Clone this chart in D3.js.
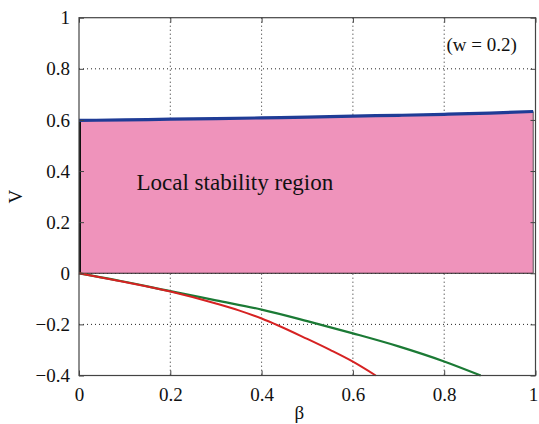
<!DOCTYPE html>
<html><head><meta charset="utf-8">
<script src="https://cdn.jsdelivr.net/npm/d3@7"></script>
<style>body{margin:0;background:#fff}svg{display:block}</style>
</head><body><svg id="c" width="539" height="424"></svg>
<script>
const xTicks=[0,0.2,0.4,0.6,0.8,1];
const yTicks=[-0.4,-0.2,0,0.2,0.4,0.6,0.8,1];
const blueBeta=[0,0.1,0.2,0.3,0.4,0.5,0.6,0.7,0.8,0.9,0.995];
const blueV=[0.598,0.600,0.603,0.605,0.608,0.611,0.615,0.618,0.622,0.627,0.633];
const greenBeta=[0,0.1,0.2,0.3,0.4,0.5,0.6,0.7,0.8,0.88];
const greenV=[0,-0.033,-0.07,-0.106,-0.142,-0.187,-0.235,-0.286,-0.345,-0.4];
const redBeta=[0,0.1,0.2,0.3,0.35,0.4,0.5,0.55,0.6,0.65];
const redV=[0,-0.034,-0.071,-0.118,-0.145,-0.177,-0.257,-0.3,-0.346,-0.4];
const regionLabel="Local stability region";
const noteLabel="(w = 0.2)";

const FONT="'Liberation Serif', 'Times New Roman', Times, serif";
const svg=d3.select("#c");
const L=79,R=535.5,T=17.7,B=375.5;
const x=d3.scaleLinear().domain([0,1]).range([L,R]);
const y=d3.scaleLinear().domain([-0.4,1]).range([B,T]);
const fmt=d=>d===0?"0":(d<0?"\u2212":"")+String(Math.abs(d));

const g=svg.append("g");
g.selectAll(".gx").data(xTicks.slice(1,-1)).join("line").attr("x1",d=>x(d)).attr("x2",d=>x(d)).attr("y1",T).attr("y2",B)
 .attr("stroke","#222").attr("stroke-width",1).attr("stroke-dasharray","1,3");
g.selectAll(".gy").data(yTicks.slice(1,-1)).join("line").attr("y1",d=>y(d)).attr("y2",d=>y(d)).attr("x1",L).attr("x2",R)
 .attr("stroke","#222").attr("stroke-width",1).attr("stroke-dasharray","1,3");

const blue=blueBeta.map((b,i)=>[b,blueV[i]]);
const area=d3.area().x(d=>x(d[0])).y0(y(0)).y1(d=>y(d[1]));
svg.append("path").datum(blue).attr("d",area).attr("fill","#ef93bb");
const xe=x(blueBeta[blueBeta.length-1]);
svg.append("line").attr("x1",x(0)).attr("x2",xe).attr("y1",y(0)).attr("y2",y(0)).attr("stroke","#222").attr("stroke-width",1.2);
svg.append("line").attr("x1",x(0)+1).attr("x2",x(0)+1).attr("y1",y(0)).attr("y2",y(blueV[0])).attr("stroke","#111").attr("stroke-width",2);
svg.append("line").attr("x1",xe).attr("x2",xe).attr("y1",y(0)).attr("y2",y(blueV[blueV.length-1])).attr("stroke","#555").attr("stroke-width",1);

const line=d3.line().curve(d3.curveMonotoneX).x(d=>x(d[0])).y(d=>y(d[1]));
svg.append("path").datum(blue).attr("d",line).attr("fill","none").attr("stroke","#1f3c96").attr("stroke-width",3.2);
svg.append("path").datum(greenBeta.map((b,i)=>[b,greenV[i]])).attr("d",line).attr("fill","none").attr("stroke","#1b7a35").attr("stroke-width",2.2);
svg.append("path").datum(redBeta.map((b,i)=>[b,redV[i]])).attr("d",line).attr("fill","none").attr("stroke","#d62222").attr("stroke-width",2);

svg.append("rect").attr("x",L).attr("y",T).attr("width",R-L).attr("height",B-T).attr("fill","none").attr("stroke","#444").attr("stroke-width",1.2);

const axB=d3.axisBottom(x).tickValues(xTicks).tickSize(-5).tickPadding(12).tickFormat(fmt);
const axL=d3.axisLeft(y).tickValues(yTicks).tickSize(-5).tickPadding(9).tickFormat(fmt);
const axT=d3.axisTop(x).tickValues(xTicks).tickSize(-5).tickFormat("");
const axR=d3.axisRight(y).tickValues(yTicks).tickSize(-5).tickFormat("");
function style(s){s.attr("font-family",null).attr("font-size",null);s.select(".domain").remove();s.selectAll(".tick line").attr("stroke","#444");
 s.selectAll("text").style("font-family",FONT).style("font-size","19px").attr("fill","#111");}
const gB=svg.append("g").attr("transform",`translate(0,${B})`).call(axB).call(style);
gB.selectAll(".tick text").filter(d=>d===1).attr("dx",-2.5);
svg.append("g").attr("transform",`translate(${L},0)`).call(axL).call(style);
svg.append("g").attr("transform",`translate(0,${T})`).call(axT).call(style);
svg.append("g").attr("transform",`translate(${R},0)`).call(axR).call(style);

function txt(){return svg.append("text").style("font-family",FONT).attr("fill","#111");}
txt().attr("x",x(0.5)-8).attr("y",419).attr("text-anchor","middle").style("font-size","19px").text("\u03b2");
txt().attr("transform",`translate(22,${y(0.3)}) rotate(-90)`).attr("text-anchor","middle").style("font-size","19px").text("V");
txt().attr("x",x(0.126)).attr("y",y(0.325)).style("font-size","23px").text(regionLabel);
txt().attr("x",x(0.805)).attr("y",y(0.87)).style("font-size","19px").text(noteLabel);
</script></body></html>
